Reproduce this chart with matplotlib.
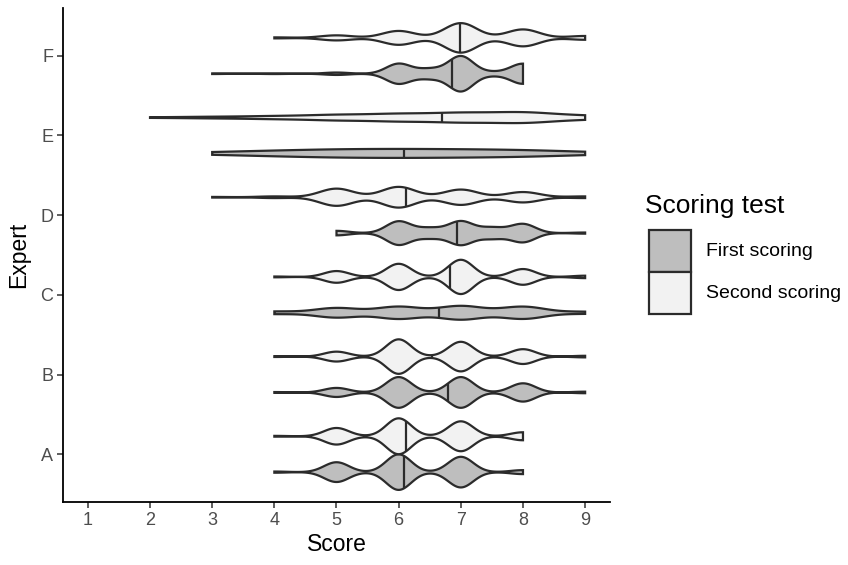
import numpy as np
import matplotlib
matplotlib.use("Agg")
import matplotlib.pyplot as plt
from matplotlib.patches import Rectangle

plt.rcParams['font.family'] = ['Liberation Sans', 'DejaVu Sans']

experts = ["A", "B", "C", "D", "E", "F"]
tests = ["First scoring", "Second scoring"]
# score grid (half points), weights below are aligned with it
scores = [1, 1.5, 2, 2.5, 3, 3.5, 4, 4.5, 5, 5.5, 6, 6.5, 7, 7.5, 8, 8.5, 9]
score_ticks = [1, 2, 3, 4, 5, 6, 7, 8, 9]

# relative frequency of each score, per expert and scoring test
A_first  = [0, 0, 0, 0, 0,   0, 0.6, 0, 10,  0, 18,  0,   15.5, 0,   2,   0, 0]
A_second = [0, 0, 0, 0, 0,   0, 0.4, 0, 8.3, 0, 18,  0,   15,   0,   4,   0, 0]
B_first  = [0, 0, 0, 0, 0,   0, 0.4, 0, 4.7, 0, 16,  0,   16,   0,   9.5, 0, 0.8]
B_second = [0, 0, 0, 0, 0,   0, 0.4, 0, 5,   0, 17.5, 0,  15,   0,   7.5, 0, 0.8]
C_first  = [0, 0, 0, 0, 0,   0, 1.5, 0, 5.5, 0, 7,   0,   7.8,  0,   7,   0, 1.2]
C_second = [0, 0, 0, 0, 0,   0, 0.4, 0, 5.8, 0, 13,  0,   17,   0,   7.8, 0, 1.2]
D_first  = [0, 0, 0, 0, 0,   0, 0,   0, 2.4, 0, 12.5, 5.2, 12.5, 5.7, 9.7, 0, 0.6]
D_second = [0, 0, 0, 0, 0.3, 0, 0.8, 0, 8.3, 0, 10,  0,   7.4,  0,   5.0, 0, 0.8]
E_first  = [0, 0, 0, 0, 1,   0, 2.2, 0, 3.3, 0, 3.5, 0,   3.2,  0,   2.8, 0, 1.2]
E_second = [0, 0, 0.3, 0, 0.8, 0, 1.5, 0, 2.8, 0, 3.8, 0,  4.8,  0,   5.5, 0, 2]
F_first  = [0, 0, 0, 0, 0.3, 0, 0.3, 0, 1.2, 0, 10,  4.6, 17.5, 1.6, 10,  0, 0]
F_second = [0, 0, 0, 0, 0,   0, 0.4, 0, 2,   0, 5.5, 0,   11.7, 0,   6.7, 0, 1.5]

# kernel bandwidths (score units)
bw_first = [0.2, 0.2, 0.35, 0.2, 0.7, 0.2]
bw_second = [0.2, 0.2, 0.2, 0.27, 0.5, 0.26]

first_all = [A_first, B_first, C_first, D_first, E_first, F_first]
second_all = [A_second, B_second, C_second, D_second, E_second, F_second]

fills = ["#BEBEBE", "#F2F2F2"]
edge = "#2b2b2b"

s = np.array(scores, dtype=float)

def kde(weights, h):
    w = np.array(weights, dtype=float)
    nz = s[w > 0]
    xs = np.linspace(nz.min(), nz.max(), 512)
    d = (w[None, :] * np.exp(-(xs[:, None] - s[None, :]) ** 2 / (2 * h * h))).sum(1)
    d /= (w.sum() * h * np.sqrt(2 * np.pi))
    return xs, d

groups = []
for i in range(len(experts)):
    for j, (data, bws) in enumerate([(first_all, bw_first), (second_all, bw_second)]):
        xs, d = kde(data[i], bws[i])
        groups.append((i, j, xs, d))

dmax = max(g[3].max() for g in groups)

fig = plt.figure(figsize=(8.48, 5.65), dpi=100)
ax = fig.add_axes([63 / 848, 1 - 502 / 565, (610 - 63) / 848, (502 - 8) / 565])

dodge = 0.225
for i, j, xs, d in groups:
    yc = (i + 1) + (-dodge if j == 0 else dodge)
    hw = 0.225 * d / dmax
    px = np.concatenate([xs, xs[::-1]])
    py = np.concatenate([yc + hw, (yc - hw)[::-1]])
    ax.fill(px, py, facecolor=fills[j], edgecolor=edge, lw=1.6, zorder=2 + i * 0.1)
    cum = np.cumsum(d) / d.sum()
    m = np.interp(0.5, cum, xs)
    hm = np.interp(m, xs, hw)
    ax.plot([m, m], [yc - hm, yc + hm], color=edge, lw=1.6, zorder=2 + i * 0.1,
            solid_capstyle='butt')

ax.set_xlim(0.6, 9.4)
ax.set_ylim(0.4, 6.6)
ax.set_xticks(score_ticks)
ax.set_xticklabels([str(t) for t in score_ticks])
ax.set_yticks(range(1, len(experts) + 1))
ax.set_yticklabels(experts)
for sp in ["top", "right"]:
    ax.spines[sp].set_visible(False)
for sp in ["left", "bottom"]:
    ax.spines[sp].set_linewidth(1.3)
    ax.spines[sp].set_color("black")
ax.tick_params(length=4, width=1.1, color="#333333", labelcolor="#4D4D4D",
               labelsize=13, pad=3)
ax.set_xlabel("Score", fontsize=16.5, color="black", labelpad=3)
ax.set_ylabel("Expert", fontsize=16.5, color="black", labelpad=7)

# legend
def fx(x):
    return x / 848
def fy(y):
    return 1 - y / 565

fig.text(fx(645), fy(206), "Scoring test", fontsize=19, va="center", ha="left")
key_tops = [230, 272]
for k, lab in enumerate(tests):
    top = key_tops[k]
    fig.add_artist(Rectangle((fx(649), fy(top + 42)), 42 / 848, 42 / 565,
                             transform=fig.transFigure, facecolor=fills[k],
                             edgecolor=edge, lw=1.6))
    fig.text(fx(706), fy(top + 21), lab, fontsize=14, va="center", ha="left")

fig.savefig("out.png", dpi=100)
